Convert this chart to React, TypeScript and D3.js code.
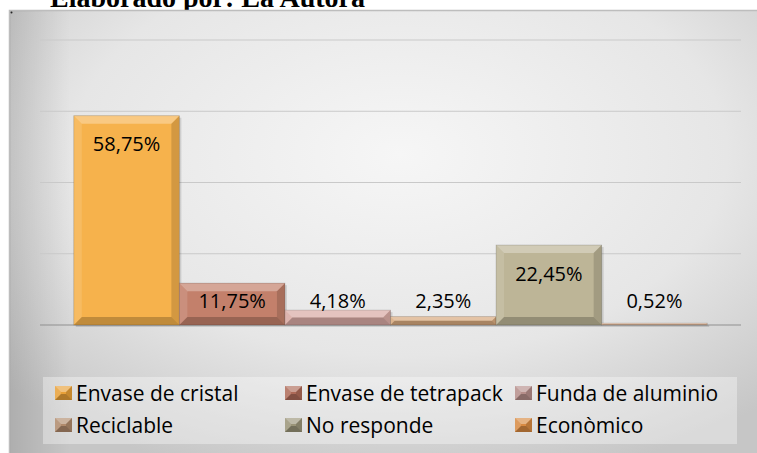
import React from "react";
import * as d3 from "d3";

const series = ["Envase de cristal", "Envase de tetrapack", "Funda de aluminio", "Reciclable", "No responde", "Econòmico"];
const values = [58.75, 11.75, 4.18, 2.35, 22.45, 0.52];
const yTicks = [0, 20, 40, 60, 80];
const barColors = ["#F6B24C", "#C3806B", "#D9AAA4", "#D8AA7E", "#BDB597", "#ECC3A4"];
const iconColors = ["#E8A038", "#AE6A58", "#B68E8A", "#B08A6C", "#9A9478", "#D88A42"];
const title = "Elaborado por: La Autora";

const W = 757;
const H = 453;
const plot = { left: 40, right: 741, top: 40, bottom: 325 };

function bevelPaths(x: number, y: number, w: number, h: number, b: number) {
  const x2 = x + w, y2 = y + h;
  return {
    top: `M${x},${y}L${x2},${y}L${x2 - b},${y + b}L${x + b},${y + b}Z`,
    bottom: `M${x},${y2}L${x2},${y2}L${x2 - b},${y2 - b}L${x + b},${y2 - b}Z`,
    left: `M${x},${y}L${x + b},${y + b}L${x + b},${y2 - b}L${x},${y2}Z`,
    right: `M${x2},${y}L${x2 - b},${y + b}L${x2 - b},${y2 - b}L${x2},${y2}Z`,
  };
}

export default function App() {
  const x = d3.scaleBand<string>().domain(series).range([plot.left, plot.right]).paddingInner(0).paddingOuter(0.32);
  const y = d3.scaleLinear().domain([0, 80]).range([plot.bottom, plot.top]);
  const fmt = (v: number) => d3.format(".2f")(v).replace(".", ",") + "%";
  const labelFont = "'Open Sans', Lato, sans-serif";

  return (
    <svg width={W} height={H} style={{ position: "absolute", left: 0, top: 0 }} xmlns="http://www.w3.org/2000/svg">
      <defs>
        <radialGradient id="bg" cx="50%" cy="30%" r="70%">
          <stop offset="0" stopColor="#f6f6f6" />
          <stop offset="0.6" stopColor="#e6e6e6" />
          <stop offset="1" stopColor="#c6c6c6" />
        </radialGradient>
        <linearGradient id="leftShade" x1="0" x2="1" y1="0" y2="0">
          <stop offset="0" stopColor="#000" stopOpacity="0.12" />
          <stop offset="1" stopColor="#000" stopOpacity="0" />
        </linearGradient>
      </defs>
      <rect x={0} y={0} width={W} height={H} fill="#ffffff" />
      <text x={50} y={7} fontFamily="'Liberation Serif', 'Times New Roman', serif" fontWeight="bold" fontSize={28} fill="#000">
        {title}
      </text>
      <rect x={9.5} y={10.5} width={780} height={480} fill="url(#bg)" stroke="#bdbdbd" strokeWidth={1.5} />
      <rect x={10} y={11} width={60} height={450} fill="url(#leftShade)" />
      <circle cx={11.5} cy={12.5} r={1} fill="#222" />

      {yTicks.map((t) => (
        <line key={t} x1={plot.left} x2={plot.right} y1={y(t)} y2={y(t)} stroke={t === 0 ? "#8f8f8f" : "#c9c9c9"} strokeWidth={1.2} />
      ))}

      {series.map((s, i) => {
        const bx = x(s)!;
        const bw = x.bandwidth();
        const by = y(values[i]);
        const bh = y(0) - by;
        const b = Math.min(8, bh / 2, bw / 2);
        const p = bevelPaths(bx, by, bw, bh, b);
        return (
          <g key={s}>
            <rect x={bx + 2} y={by + 2} width={bw} height={bh} fill="#000" opacity={0.12} />
            <rect x={bx} y={by} width={bw} height={bh} fill={barColors[i]} />
            <path d={p.top} fill="#fff" opacity={0.3} />
            <path d={p.left} fill="#fff" opacity={0.12} />
            <path d={p.right} fill="#000" opacity={0.14} />
            <path d={p.bottom} fill="#000" opacity={0.22} />
            <rect x={bx} y={by} width={bw} height={bh} fill="none" stroke="#000" strokeOpacity={0.18} strokeWidth={0.8} />
          </g>
        );
      })}

      {series.map((s, i) => {
        const cx = x(s)! + x.bandwidth() / 2;
        const ly = Math.min(y(values[i]) + 28, y(0) - 25);
        return (
          <text key={s} x={cx} y={ly} textAnchor="middle" dominantBaseline="central" fontFamily={labelFont} fontSize={20} fill="#000">
            {fmt(values[i])}
          </text>
        );
      })}

      <rect x={43} y={377} width={694} height={67} fill="#fff" opacity={0.35} />
      {series.map((s, i) => {
        const col = i % 3;
        const row = Math.floor(i / 3);
        const ix = 55 + col * 230;
        const iy = 393 + row * 32;
        const p = bevelPaths(ix, iy - 7, 17, 14, 6);
        return (
          <g key={s}>
            <rect x={ix} y={iy - 7} width={17} height={14} fill={iconColors[i]} />
            <path d={p.top} fill="#fff" opacity={0.35} />
            <path d={p.left} fill="#fff" opacity={0.15} />
            <path d={p.right} fill="#000" opacity={0.15} />
            <path d={p.bottom} fill="#000" opacity={0.25} />
            <text x={ix + 21} y={iy} dominantBaseline="central" fontFamily={labelFont} fontSize={21} fill="#000">
              {s}
            </text>
          </g>
        );
      })}
    </svg>
  );
}
